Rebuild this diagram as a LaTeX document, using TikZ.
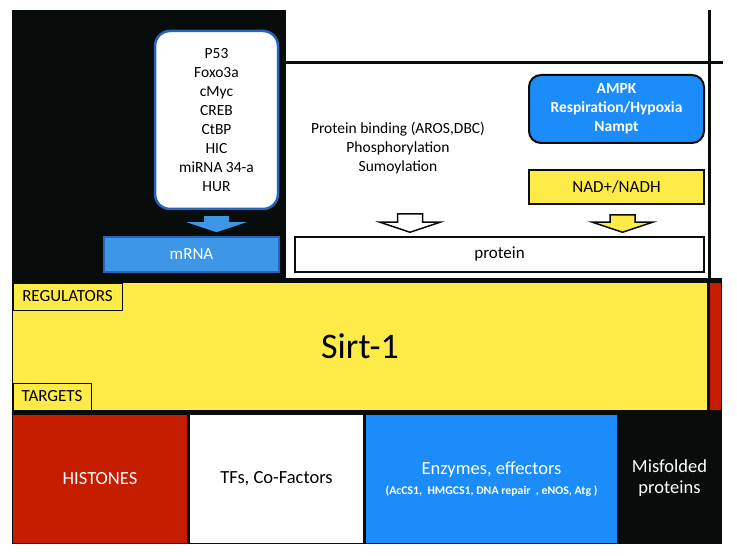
\documentclass[tikz,border=0pt]{standalone}
\usepackage{fontspec}
\setmainfont{Carlito}
\usepackage{tikz}
\usetikzlibrary{positioning, calc}

\definecolor{schwarz}{RGB}{8,12,10}
\definecolor{gelb}{RGB}{255,235,72}
\definecolor{rot}{RGB}{198,28,0}
\definecolor{blau}{RGB}{28,140,250}
\definecolor{mblau}{RGB}{62,150,230}
\definecolor{rblau}{RGB}{40,100,185}

\begin{document}
\begin{tikzpicture}[x=1pt, y=-1pt,
		feld/.style={rectangle, inner sep=0pt, align=center},
		klein/.style={font=\fontsize{15.5}{19}\selectfont},
		mittel/.style={font=\fontsize{17}{20}\selectfont},
		gross/.style={font=\fontsize{18.5}{21}\selectfont},
		pfeil/.style={to path={let \p1=(\tikztostart), \p2=(\tikztotarget) in
			(\x1-12.5pt,\y1) -- (\x1+12.5pt,\y1) -- (\x1+12.5pt,\y2+10pt) -- (\x1+30pt,\y2+10pt)
			-- (\x1,\y2) -- (\x1-30pt,\y2+10pt) -- (\x1-12.5pt,\y2+10pt) -- cycle}}]
			\useasboundingbox (0,0) rectangle (737,556);
			
			% Hintergrund
			\fill[schwarz] (12,10) rectangle (286,281);
			\fill[schwarz] (12,278) rectangle (722,544);
			\draw[schwarz, line width=3] (286,63) -- (723,63);
			\draw[schwarz, line width=3] (709,10) -- (709,281);
			
			% Sirt-1
			\node[feld, fill=gelb, minimum width=694, minimum height=127, font=\fontsize{36}{40}\selectfont] (sirt) at (360,346.5) {Sirt-1};
			\fill[rot] (710,283) rectangle (721,410);
			\node[feld, mittel, fill=gelb, draw=schwarz, thin, minimum width=109, minimum height=27, anchor=north west] (regulatoren) at (sirt.north west) {REGULATORS};
			\node[feld, mittel, fill=gelb, draw=schwarz, thin, minimum width=78, minimum height=27, anchor=south west] (ziele) at (sirt.south west) {TARGETS};
			
			% Ziele
			\node[feld, gross, fill=rot, text=white, minimum width=174, minimum height=128] (histone) at (100,479) {HISTONES};
			\node[feld, gross, fill=white, minimum width=173, minimum height=128] (tfs) at (276.5,479) {TFs, Co-Factors};
			\node[feld, gross, fill=blau, text=white, minimum width=251, minimum height=128] (enzyme) at (491.5,479)
				{Enzymes, effectors\\[-1pt] {\fontsize{11.8}{13}\selectfont\bfseries (AcCS1,\ \ HMGCS1, DNA repair\ \ , eNOS, Atg )}};
			\node[feld, gross, text=white, minimum width=105, minimum height=128] (misfolded) at (669.5,478) {Misfolded\\proteins};
			
			% Regulatoren: mRNA
			\node[feld, klein, fill=white, draw=rblau, line width=2.5, rounded corners=15, minimum width=123, minimum height=178] (regler) at (216.5,120)
				{P53\\Foxo3a\\cMyc\\CREB\\CtBP\\HIC\\miRNA 34-a\\HUR};
			\node[feld, mittel, fill=mblau, draw=rblau, line width=1.5, text=white, minimum width=175, minimum height=35] (mrna) at (191.5,254.5) {mRNA};
			\draw[pfeil, fill=mblau, draw=none] ($(regler.south)+(0,6)$) to ($(regler.south |- mrna.north)+(0,-4)$);
			
			% Regulatoren: Protein
			\node[feld, mittel, fill=white, draw=schwarz, line width=1.5, minimum width=409, minimum height=35] (protein) at (499.5,254.5) {protein};
			\node[feld, klein] (modif) at (398,148) {Protein binding (AROS,DBC)\\Phosphorylation\\Sumoylation};
			\node[feld, fill=blau, draw=schwarz, line width=2, rounded corners=12, text=white, font={\fontsize{15.5}{19}\selectfont\bfseries}, minimum width=175, minimum height=68] (ampk) at (616.5,109)
				{AMPK\\Respiration/Hypoxia\\Nampt};
			\node[feld, mittel, fill=gelb, draw=schwarz, line width=2, minimum width=175, minimum height=34] (nad) at (616.5,187) {NAD+/NADH};
			\coordinate (pb) at (410,214);
			\draw[pfeil, fill=white, draw=schwarz, line width=1.5] (pb) to ($(pb |- protein.north)+(0,-4)$);
			\draw[pfeil, fill=gelb, draw=schwarz, line width=1.5] ($(nad.south)+(6,10)$) to ($(nad.south |- protein.north)+(0,-4)$);
		\end{tikzpicture}
\end{document}
